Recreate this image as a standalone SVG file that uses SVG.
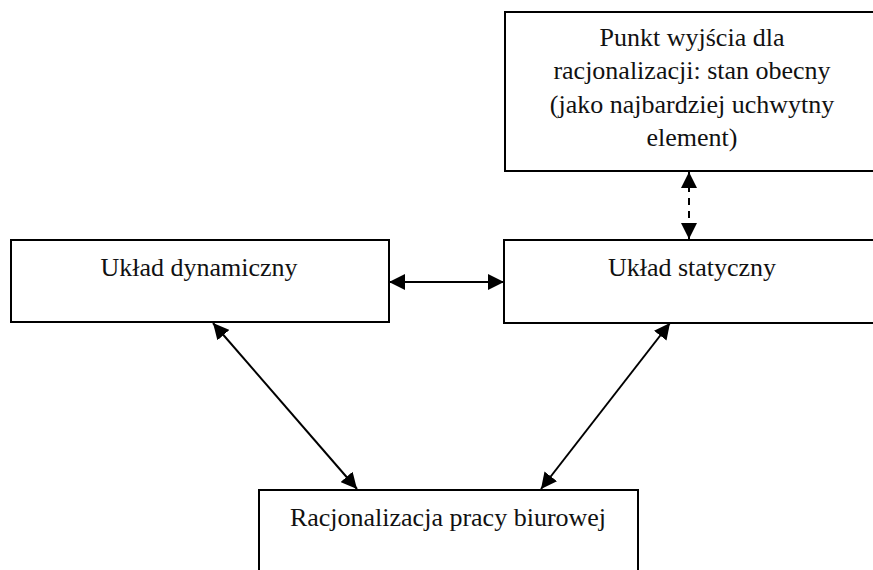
<svg xmlns="http://www.w3.org/2000/svg" width="873" height="570" viewBox="0 0 873 570">
<defs>
<style>
.box{fill:#fff;stroke:#000;stroke-width:2}
.t{font-family:"Liberation Serif","Times New Roman",serif;font-size:26px;fill:#111;text-anchor:middle}
.c{stroke:#000;stroke-width:2;fill:none}
.d{stroke-dasharray:7,6}
</style>
<marker id="ahb" viewBox="0 0 10 10" refX="10" refY="5" markerWidth="16" markerHeight="16" markerUnits="userSpaceOnUse" orient="auto-start-reverse">
<path d="M0,0 L10,5 L0,10 z" fill="#000"/>
</marker>
</defs>
<rect width="873" height="570" fill="#fff"/>
<g id="n-punkt">
<rect class="box" x="505" y="12" width="376" height="159"/>
<text class="t" x="692" y="46">Punkt wyjścia dla</text>
<text class="t" x="692" y="79">racjonalizacji: stan obecny</text>
<text class="t" x="692" y="113">(jako najbardziej uchwytny</text>
<text class="t" x="692" y="146">element)</text>
</g>
<g id="n-dynamiczny">
<rect class="box" x="11" y="240" width="378" height="82"/>
<text class="t" x="199" y="276">Układ dynamiczny</text>
</g>
<g id="n-statyczny">
<rect class="box" x="504" y="240" width="377" height="83"/>
<text class="t" x="692" y="276">Układ statyczny</text>
</g>
<g id="n-racjonalizacja">
<rect class="box" x="259" y="490" width="379" height="90"/>
<text class="t" x="448" y="526">Racjonalizacja pracy biurowej</text>
</g>
<g id="connectors">
<line class="c" x1="389" y1="282" x2="504" y2="282" marker-start="url(#ahb)" marker-end="url(#ahb)"/>
<line class="c d" x1="689" y1="172" x2="689" y2="239" marker-start="url(#ahb)" marker-end="url(#ahb)"/>
<line class="c" x1="213" y1="323" x2="357" y2="489" marker-start="url(#ahb)" marker-end="url(#ahb)"/>
<line class="c" x1="670" y1="323" x2="541" y2="489" marker-start="url(#ahb)" marker-end="url(#ahb)"/>
</g>
</svg>
